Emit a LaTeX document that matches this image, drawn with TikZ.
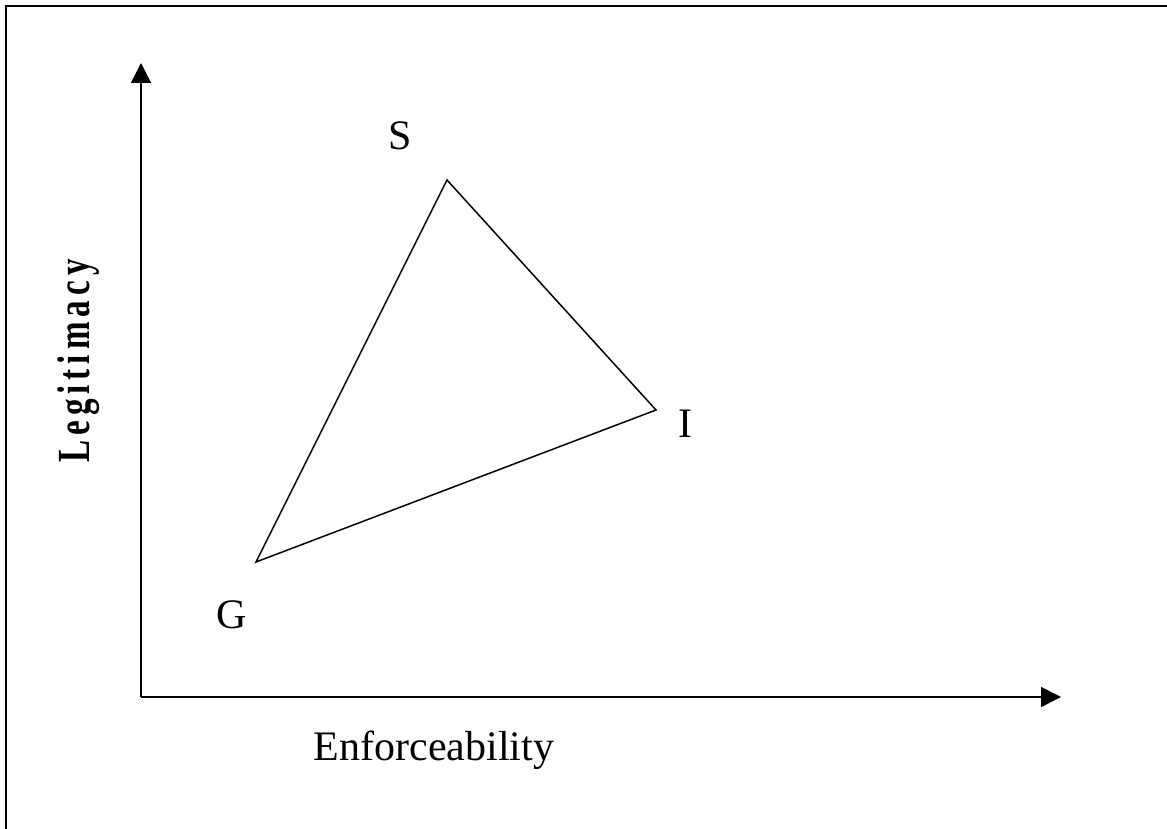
\documentclass[tikz,border=0pt]{standalone}
\usepackage{fontspec}
\setmainfont{Liberation Serif}
\newfontfamily\legfont[FakeStretch=0.72,LetterSpace=11]{Liberation Serif Bold}
\usetikzlibrary{arrows.meta}
\begin{document}
\begin{tikzpicture}[x=1pt,y=-1pt,
  axis/.style={line width=1.6pt,-{Triangle[length=20pt,width=20pt]}},
  edge/.style={line width=1.5pt},
  frame/.style={line width=2pt},
  lbl/.style={font=\fontsize{42}{50}\selectfont,inner sep=0pt,anchor=base}]
\useasboundingbox (0,0) rectangle (1167,829);
% frame (top and left only)
\coordinate (F0) at (6,829);
\coordinate (F1) at (6,6);
\coordinate (F2) at (1167,6);
\draw[frame] (F0) -- (F1) -- (F2);
% axes
\coordinate (O) at (141,697);
\coordinate (Ytip) at (141,63);
\coordinate (Xtip) at (1061,697);
\draw[axis] (O) -- (Ytip);
\draw[axis] (O) -- (Xtip);
% triangle
\coordinate (S) at (447,180);
\coordinate (I) at (656,410);
\coordinate (G) at (256,562);
\draw[edge,line join=miter] (G) -- (S) -- (I) -- cycle;
% labels
\node[lbl] (Slbl) at (400,150) {S};
\node[lbl] (Ilbl) at (685,437) {I};
\node[lbl] (Glbl) at (232,628) {G};
\node[lbl] (xlbl) at (434,760) {Enforceability};
\node[lbl,rotate=90,font=\legfont\fontsize{46}{54}\selectfont] (ylbl) at (89,361) {Legitimacy};
\end{tikzpicture}
\end{document}
